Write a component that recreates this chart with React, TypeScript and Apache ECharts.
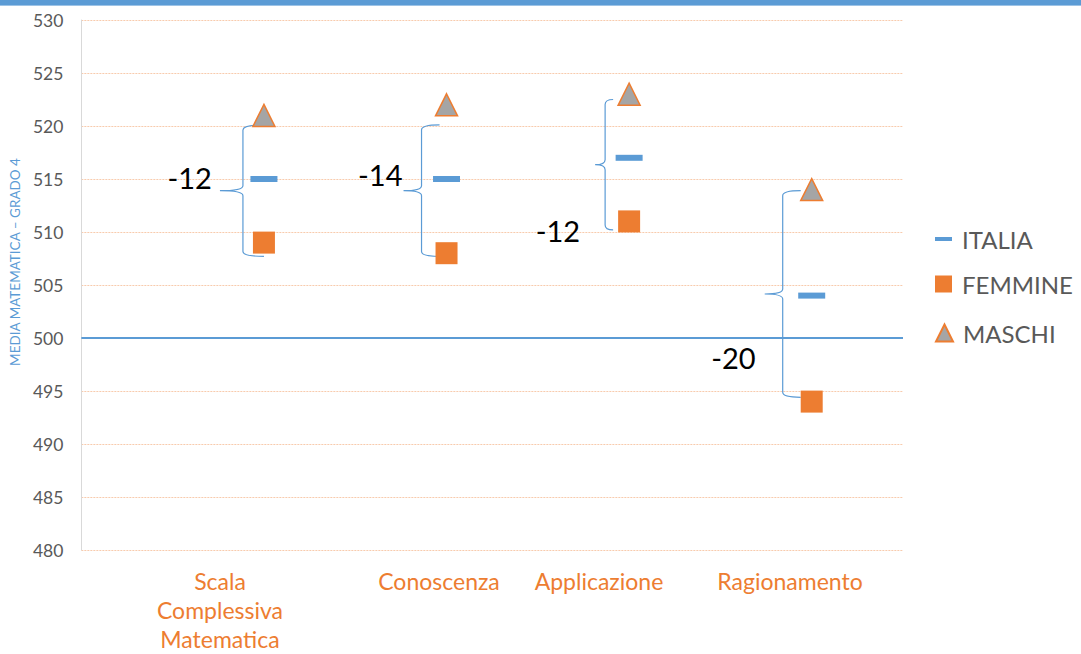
import React, { useEffect, useRef } from "react";
import * as echarts from "echarts";

// ---- data ----
const categories = ["Scala\nComplessiva\nMatematica", "Conoscenza", "Applicazione", "Ragionamento"];
const categoryX = [1, 2, 3, 4];
const italia = [515, 515, 517, 504];
const femmine = [509, 508, 511, 494];
const maschi = [521, 522, 523, 514];
const braceTop = [520.1, 520.1, 522.5, 513.9];
const braceBottom = [507.7, 507.7, 510.2, 494.4];
const yMin = 480;
const yMax = 530;
const yStep = 5;
const referenceLine = 500;

// ---- layout (annotation offsets in px relative to the marker column) ----
const braceLayout = [
  { lineDx: -21, armDx: 0, tipDx: -44, labelDx: -52, labelDy: -13 },
  { lineDx: -25, armDx: -7, tipDx: -43, labelDx: -44, labelDy: -16 },
  { lineDx: -24, armDx: -16, tipDx: -34, labelDx: -49, labelDy: 66 },
  { lineDx: -29, armDx: -11, tipDx: -47, labelDx: -56, labelDy: 63 },
];
const categoryLabelPos = [
  { x: 220, y: 566 },
  { x: 439, y: 566 },
  { x: 599, y: 566 },
  { x: 790, y: 566 },
];

const BLUE = "#5B9BD5";
const ORANGE = "#ED7D31";
const GRAY = "#A5A5A5";
const TEXT = "#595959";
const FONT = "Lato, 'Open Sans', sans-serif";

const legendText = {
  color: TEXT,
  fontSize: 24,
  lineHeight: 26,
  fontFamily: FONT,
  padding: [0, 0, 0, 5],
};

export default function App() {
  const ref = useRef<HTMLDivElement>(null);
  useEffect(() => {
    if (!ref.current) return;
    const chart = echarts.init(ref.current, undefined, { renderer: "svg" });
    const braceData = categoryX.map((x, i) => [x, braceTop[i], braceBottom[i], femmine[i] - maschi[i]]);
    const option: any = {
      animation: false,
      backgroundColor: "#ffffff",
      textStyle: { fontFamily: FONT },
      grid: { left: 81, right: 178, top: 20, bottom: 104, containLabel: false },
      xAxis: {
        type: "value",
        min: 0,
        max: 4.5,
        axisLine: { show: false },
        axisTick: { show: false },
        axisLabel: { show: false },
        splitLine: { show: false },
      },
      yAxis: {
        type: "value",
        min: yMin,
        max: yMax,
        interval: yStep,
        name: "MEDIA MATEMATICA – GRADO 4",
        nameLocation: "middle",
        nameGap: 59,
        nameTextStyle: { color: BLUE, fontSize: 13.5, fontFamily: FONT, padding: [0, 0, 0, 46] },
        axisLine: { show: true, lineStyle: { color: "#D9D9D9", width: 1 } },
        axisTick: { show: false },
        axisLabel: { color: TEXT, fontSize: 17.5, margin: 18, fontFamily: FONT },
        splitLine: { show: true, lineStyle: { color: "#F8CBAD", width: 1, type: [2, 1] } },
      },
      legend: [
        {
          data: [{ name: "ITALIA", icon: "rect" }],
          left: 935, top: 226, itemWidth: 17, itemHeight: 4, padding: 0,
          textStyle: legendText,
        },
        {
          data: [{ name: "FEMMINE", icon: "rect" }],
          left: 935, top: 271, itemWidth: 17, itemHeight: 17, padding: 0,
          textStyle: legendText,
        },
        {
          data: [{ name: "MASCHI", icon: "triangle" }],
          left: 935, top: 320, itemWidth: 17, itemHeight: 17, padding: 0,
          textStyle: legendText,
        },
      ],
      series: [
        {
          name: "ITALIA",
          type: "scatter",
          symbol: "rect",
          symbolSize: [27, 6],
          itemStyle: { color: BLUE, opacity: 1 },
          data: categoryX.map((x, i) => [x, italia[i]]),
          z: 3,
          markLine: {
            silent: true,
            symbol: "none",
            label: { show: false },
            lineStyle: { color: BLUE, width: 2, type: "solid" },
            data: [{ yAxis: referenceLine }],
          },
        },
        {
          name: "FEMMINE",
          type: "scatter",
          symbol: "rect",
          symbolSize: 22,
          itemStyle: { color: ORANGE, opacity: 1 },
          data: categoryX.map((x, i) => [x, femmine[i]]),
          z: 3,
        },
        {
          name: "MASCHI",
          type: "scatter",
          symbol: "triangle",
          symbolSize: 22,
          itemStyle: { color: GRAY, borderColor: ORANGE, borderWidth: 1.5, opacity: 1 },
          data: categoryX.map((x, i) => [x, maschi[i]]),
          z: 3,
        },
        {
          name: "brace",
          type: "custom",
          clip: false,
          data: braceData,
          encode: { x: 0, y: [1, 2] },
          z: 2,
          renderItem: (params: any, api: any) => {
            const i = params.dataIndex;
            const L = braceLayout[i];
            const top = api.coord([api.value(0), api.value(1)]);
            const bot = api.coord([api.value(0), api.value(2)]);
            const cx = top[0];
            const x = cx + L.lineDx;
            const arm = cx + L.armDx;
            const tipX = cx + L.tipDx;
            const yt = top[1];
            const yb = bot[1];
            const ym = (yt + yb) / 2;
            const r = 5;
            const d =
              `M${arm},${yt} Q${x},${yt} ${x},${yt + r} L${x},${ym - r} ` +
              `Q${x},${ym} ${tipX},${ym} Q${x},${ym} ${x},${ym + r} ` +
              `L${x},${yb - r} Q${x},${yb} ${arm},${yb}`;
            return {
              type: "group",
              children: [
                {
                  type: "path",
                  shape: { pathData: d },
                  style: { fill: "none", stroke: BLUE, lineWidth: 1.2 },
                },
                {
                  type: "text",
                  style: {
                    text: String(api.value(3)),
                    x: cx + L.labelDx,
                    y: ym + L.labelDy,
                    align: "right",
                    verticalAlign: "middle",
                    fontSize: 29,
                    fontFamily: FONT,
                    fill: "#000000",
                  },
                },
              ],
            };
          },
        },
      ],
      graphic: [
        { type: "rect", shape: { x: 0, y: 0, width: 1081, height: 5 }, style: { fill: BLUE } },
        { type: "rect", shape: { x: 0, y: 5, width: 1081, height: 1 }, style: { fill: "#9DC3E6" } },
        ...categories.map((c, i) => ({
          type: "text",
          x: categoryLabelPos[i].x,
          y: categoryLabelPos[i].y,
          style: {
            text: c,
            align: "center",
            verticalAlign: "top",
            fontSize: 23,
            lineHeight: 29,
            fontFamily: FONT,
            fill: ORANGE,
          },
        })),
      ],
    };
    chart.setOption(option);
    return () => chart.dispose();
  }, []);
  return (
    <div
      ref={ref}
      style={{ position: "fixed", left: 0, top: 0, width: 1081, height: 654, background: "#fff" }}
    />
  );
}
